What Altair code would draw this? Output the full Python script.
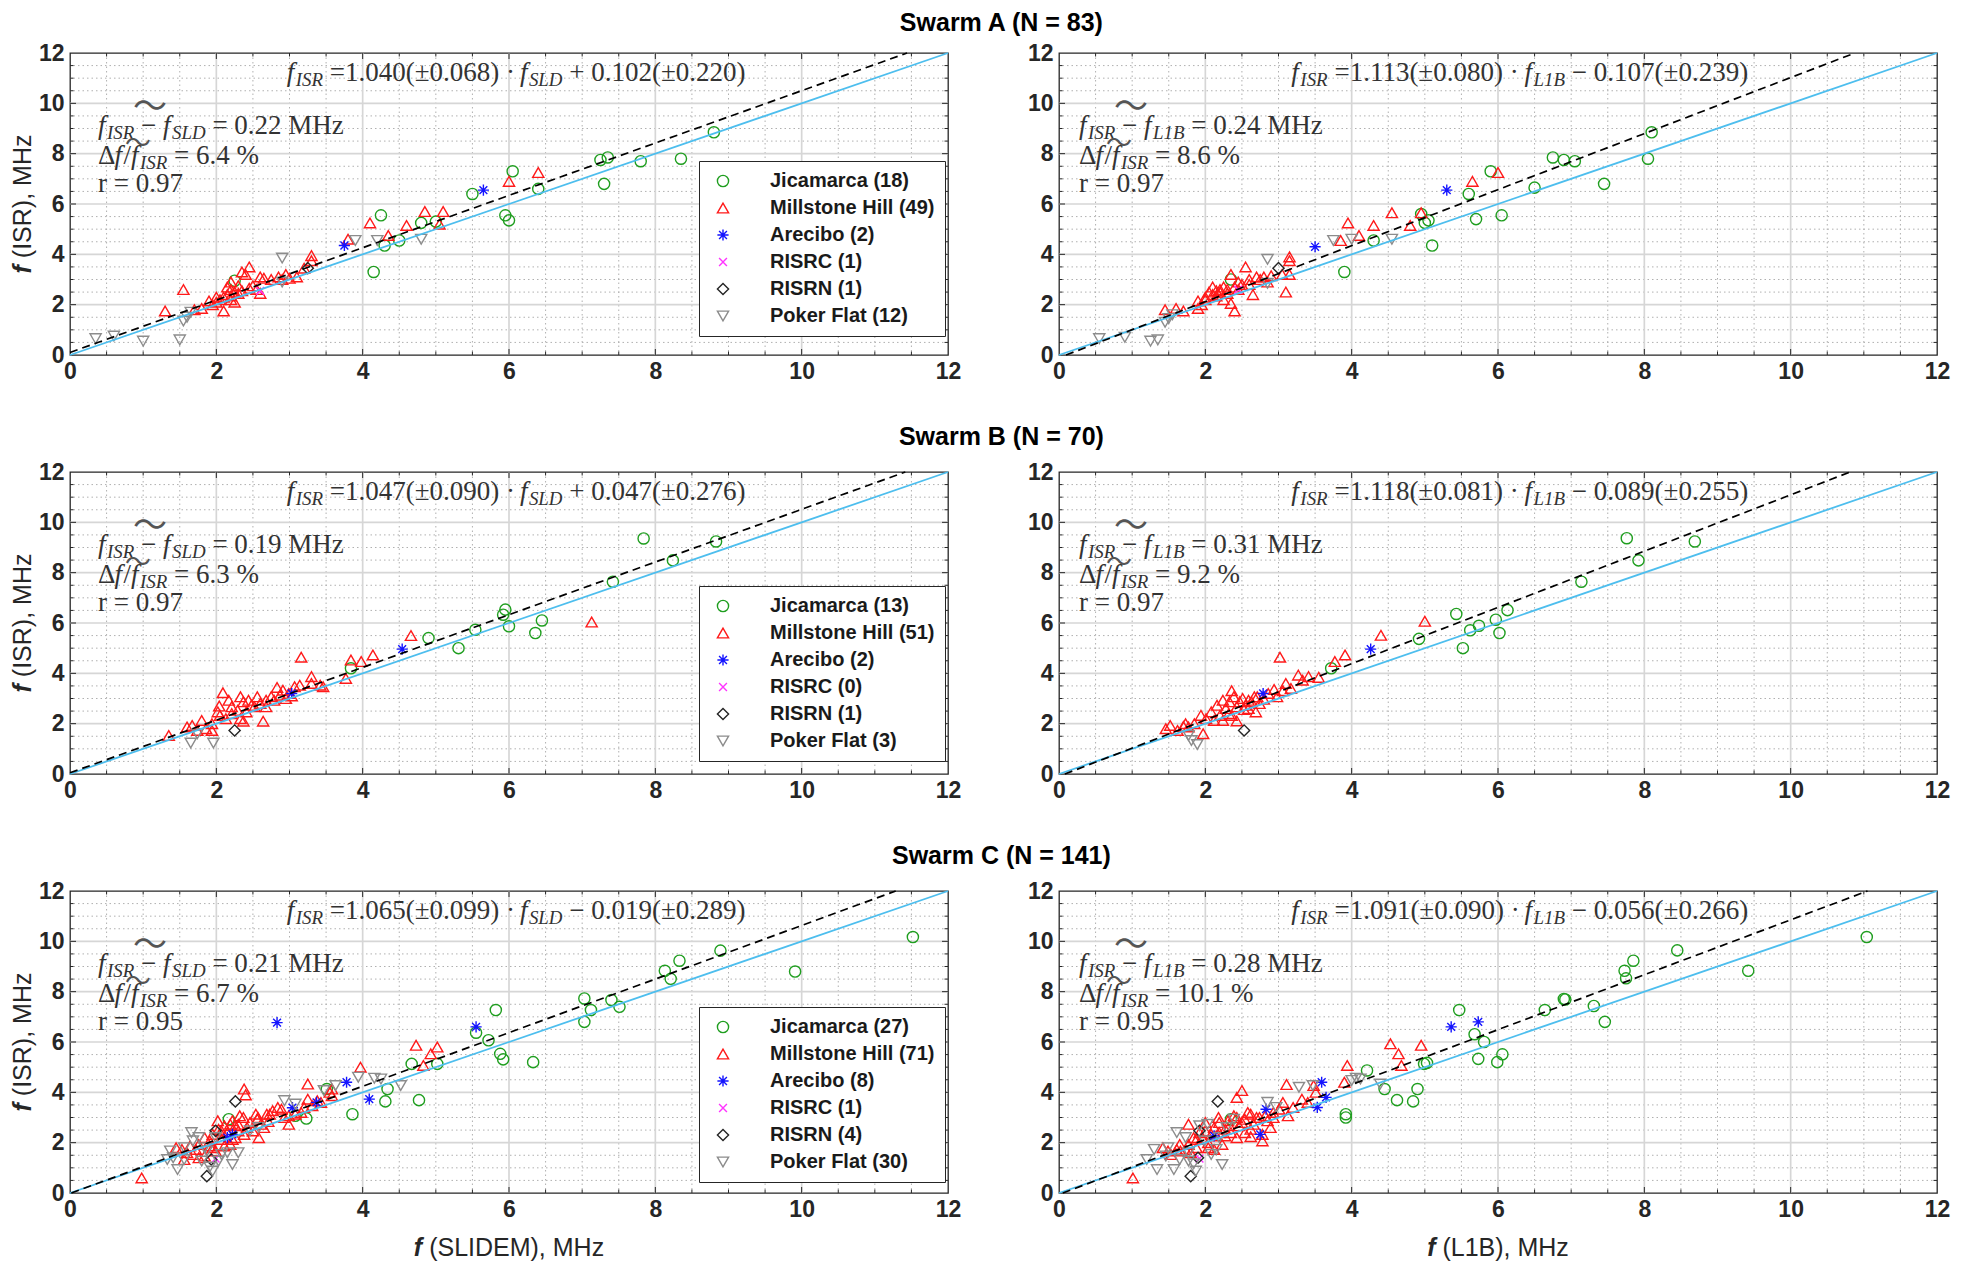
import altair as alt
import pandas as pd

# ---------------- data ----------------
STATIONS = ["Jicamarca", "Millstone Hill", "Arecibo", "RISRC", "RISRN", "Poker Flat"]
COLORS = ["#1f9e1f", "#ff1a1a", "#1414ff", "#ff33ff", "#262626", "#8c8c8c"]
ASTERISK = "M0,-1L0,1M-1,0L1,0M-0.7,-0.7L0.7,0.7M-0.7,0.7L0.7,-0.7"
XCROSS = "M-0.7,-0.7L0.7,0.7M-0.7,0.7L0.7,-0.7"
SHAPES = ["circle", "triangle-up", ASTERISK, XCROSS, "diamond", "triangle-down"]

TITLES = {"A": "Swarm A (N = 83)", "B": "Swarm B (N = 70)", "C": "Swarm C (N = 141)"}
COUNTS = {"A": [18, 49, 2, 1, 1, 12], "B": [13, 51, 2, 0, 1, 3], "C": [27, 71, 8, 1, 4, 30]}
INSTR_SUB = {"SLD": "SLD", "L1B": "L1B"}
X_TITLES = {"SLD": " (SLIDEM), MHz", "L1B": " (L1B), MHz"}
Y_TITLE = " (ISR), MHz"

# slope, slope err, intercept, intercept err
FITS = {
    ("A", "SLD"): (1.040, 0.068, 0.102, 0.220),
    ("A", "L1B"): (1.113, 0.080, -0.107, 0.239),
    ("B", "SLD"): (1.047, 0.090, 0.047, 0.276),
    ("B", "L1B"): (1.118, 0.081, -0.089, 0.255),
    ("C", "SLD"): (1.065, 0.099, -0.019, 0.289),
    ("C", "L1B"): (1.091, 0.090, -0.056, 0.266),
}
MEDIANS = {("A", "SLD"): "0.22", ("A", "L1B"): "0.24", ("B", "SLD"): "0.19",
           ("B", "L1B"): "0.31", ("C", "SLD"): "0.21", ("C", "L1B"): "0.28"}
RELDEV = {("A", "SLD"): "6.4", ("A", "L1B"): "8.6", ("B", "SLD"): "6.3",
          ("B", "L1B"): "9.2", ("C", "SLD"): "6.7", ("C", "L1B"): "10.1"}
CORR = {("A", "SLD"): "0.97", ("A", "L1B"): "0.97", ("B", "SLD"): "0.97",
        ("B", "L1B"): "0.97", ("C", "SLD"): "0.95", ("C", "L1B"): "0.95"}

# ---- Swarm A, SLIDEM ----
A_SLD_JIC = [(2.25, 2.95), (4.15, 3.3), (4.25, 5.55), (4.3, 4.35), (4.5, 4.55), (4.8, 5.25), (5.0, 5.3),
             (5.5, 6.4), (5.95, 5.55), (6.0, 5.35), (6.05, 7.3), (6.4, 6.6), (7.25, 7.75), (7.3, 6.8),
             (7.35, 7.85), (7.8, 7.7), (8.35, 7.8), (8.8, 8.85)]
A_SLD_MIL = [(1.3, 1.75), (1.55, 2.6), (1.7, 1.8), (1.8, 1.85), (1.9, 2.15), (1.95, 2.0), (2.0, 2.3),
             (2.0, 2.1), (2.05, 2.2), (2.1, 1.75), (2.1, 2.3), (2.15, 2.4), (2.15, 2.7), (2.2, 2.6),
             (2.2, 2.2), (2.2, 2.35), (2.2, 2.9), (2.25, 2.1), (2.25, 2.5), (2.3, 2.75), (2.3, 2.45),
             (2.35, 2.55), (2.4, 3.2), (2.45, 3.5), (2.45, 2.65), (2.5, 2.75), (2.55, 2.6), (2.6, 2.45),
             (2.6, 3.1), (2.65, 3.05), (2.75, 3.0), (2.85, 3.1), (2.9, 3.0), (2.95, 3.2), (3.0, 3.05),
             (3.1, 3.1), (3.2, 3.45), (3.3, 3.95), (3.3, 3.75), (3.8, 4.6), (4.1, 5.25), (4.35, 4.75),
             (4.6, 5.15), (4.85, 5.7), (5.05, 5.2), (5.1, 5.7), (6.0, 6.9), (6.4, 7.25), (2.35, 3.3)]
A_SLD_ARE = [(3.75, 4.35), (5.65, 6.55)]
A_SLD_RSC = [(2.6, 2.55)]
A_SLD_RSN = [(3.25, 3.45)]
A_SLD_PKF = [(0.35, 0.65), (0.6, 0.75), (1.0, 0.55), (1.5, 0.6), (1.55, 1.35), (1.6, 1.5), (1.65, 1.7),
             (2.9, 3.85), (2.9, 2.9), (3.9, 4.55), (4.2, 4.55), (4.8, 4.6)]

# ---- Swarm A, L1B ----
A_L1B_JIC = [(2.35, 3.0), (3.9, 3.3), (4.3, 4.55), (4.95, 5.6), (5.0, 5.25), (5.05, 5.35), (5.1, 4.35),
             (5.6, 6.4), (5.7, 5.4), (5.9, 7.3), (6.05, 5.55), (6.5, 6.65), (6.75, 7.85), (6.9, 7.75),
             (7.05, 7.7), (7.45, 6.8), (8.05, 7.8), (8.1, 8.85)]
A_L1B_MIL = [(1.45, 1.8), (1.6, 1.85), (1.7, 1.75), (1.9, 1.85), (1.9, 2.15), (1.95, 2.0), (2.0, 2.2),
             (2.0, 2.3), (2.05, 2.5), (2.1, 2.7), (2.1, 2.4), (2.15, 2.35), (2.15, 2.55), (2.2, 2.6),
             (2.2, 2.5), (2.25, 2.2), (2.25, 2.7), (2.3, 2.45), (2.3, 2.6), (2.35, 2.05), (2.35, 3.2),
             (2.4, 1.75), (2.4, 2.7), (2.45, 2.6), (2.45, 2.9), (2.5, 2.8), (2.55, 3.5), (2.6, 3.0),
             (2.6, 2.8), (2.65, 2.4), (2.7, 3.1), (2.75, 3.0), (2.8, 3.1), (2.85, 2.9), (2.9, 3.15),
             (3.05, 3.2), (3.1, 2.5), (3.15, 3.9), (3.15, 3.75), (3.15, 3.2), (3.85, 4.55), (3.95, 5.25),
             (4.1, 4.75), (4.3, 5.15), (4.55, 5.65), (4.8, 5.15), (4.95, 5.65), (5.65, 6.9), (6.0, 7.25)]
A_L1B_ARE = [(3.5, 4.3), (5.3, 6.55)]
A_L1B_RSC = [(2.45, 2.6)]
A_L1B_RSN = [(3.0, 3.45)]
A_L1B_PKF = [(0.55, 0.65), (0.9, 0.7), (1.25, 0.55), (1.35, 0.6), (1.45, 1.3), (1.5, 1.45), (1.55, 1.6),
             (2.85, 3.8), (2.85, 2.85), (3.75, 4.55), (4.0, 4.6), (4.55, 4.6)]

# ---- Swarm B, SLIDEM ----
B_SLD_JIC = [(7.84, 9.36), (8.83, 9.24), (8.24, 8.49), (7.42, 7.64), (5.95, 6.53), (5.92, 6.33),
             (6.0, 5.87), (6.45, 6.1), (6.36, 5.6), (5.54, 5.73), (4.9, 5.4), (5.31, 5.0), (3.84, 4.2)]
B_SLD_MIL = [(7.13, 6.04), (4.66, 5.5), (4.14, 4.73), (3.84, 4.53), (3.98, 4.47), (3.16, 4.64), (3.77, 3.8),
             (3.3, 3.87), (3.14, 3.53), (3.42, 3.53), (2.83, 3.44), (2.09, 3.23), (2.64, 2.1), (2.37, 2.1),
             (1.8, 2.13), (1.6, 1.87), (1.35, 1.53), (2.04, 2.7), (2.17, 2.93), (2.33, 3.07), (2.44, 2.93),
             (2.56, 3.07), (2.68, 2.93), (2.75, 3.07), (2.87, 3.13), (2.95, 3.0), (3.03, 3.1), (2.21, 2.67),
             (2.29, 2.53), (2.41, 2.47), (2.52, 2.67), (2.05, 2.33), (1.94, 2.0), (2.13, 2.2), (2.33, 2.2),
             (2.6, 2.8), (1.86, 1.8), (1.74, 1.73), (1.94, 1.73), (2.21, 2.4), (2.48, 2.73), (2.68, 2.67),
             (2.79, 2.93), (2.99, 3.2), (3.07, 3.47), (3.3, 3.6), (3.46, 3.47), (2.37, 2.87), (2.02, 2.47),
             (1.67, 1.93), (2.91, 3.33)]
B_SLD_ARE = [(4.54, 4.96), (3.03, 3.2)]
B_SLD_RSC = []
B_SLD_RSN = [(2.25, 1.73)]
B_SLD_PKF = [(1.65, 1.23), (1.96, 1.23), (1.74, 1.6)]

# ---- Swarm B, L1B ----
B_L1B_JIC = [(7.76, 9.37), (8.69, 9.24), (7.92, 8.49), (7.14, 7.64), (5.43, 6.36), (6.13, 6.51),
             (5.97, 6.13), (5.74, 5.89), (5.62, 5.71), (6.02, 5.6), (4.92, 5.37), (5.52, 5.0), (3.72, 4.2)]
B_L1B_MIL = [(5.0, 6.07), (4.4, 5.51), (3.91, 4.73), (3.77, 4.47), (3.02, 4.64), (3.55, 3.84), (3.27, 3.93),
             (3.1, 3.6), (3.41, 3.87), (2.94, 3.36), (2.36, 3.31), (2.69, 2.47), (2.43, 2.11), (1.97, 1.6),
             (1.94, 2.33), (1.73, 2.0), (1.52, 1.93), (1.46, 1.8), (2.16, 2.73), (2.24, 2.93), (2.39, 3.07),
             (2.51, 3.0), (2.59, 2.93), (2.67, 3.07), (2.24, 2.13), (2.32, 2.4), (2.43, 2.67), (2.55, 2.73),
             (2.63, 2.87), (2.08, 2.47), (2.01, 2.2), (1.85, 2.0), (2.2, 2.33), (2.47, 2.87), (2.74, 2.8),
             (2.86, 3.2), (2.98, 3.07), (3.17, 3.4), (2.71, 3.07), (2.28, 2.6), (1.77, 1.87), (2.12, 2.13),
             (2.36, 2.33), (2.59, 2.6), (1.62, 1.73), (2.33, 2.87), (2.53, 2.56), (2.8, 2.97), (3.06, 3.31),
             (3.33, 3.73), (1.7, 1.89)]
B_L1B_ARE = [(4.26, 4.96), (2.79, 3.2)]
B_L1B_RSC = []
B_L1B_RSN = [(2.53, 1.73)]
B_L1B_PKF = [(1.77, 1.53), (1.89, 1.17), (1.81, 1.33)]

# ---- Swarm C, SLIDEM ----
C_SLD_JIC = [(11.52, 10.17), (9.91, 8.8), (8.89, 9.63), (8.33, 9.23), (8.13, 8.83), (8.21, 8.51),
             (7.03, 7.73), (7.4, 7.67), (7.51, 7.4), (7.12, 7.27), (7.03, 6.8), (5.82, 7.27), (5.55, 6.37),
             (5.72, 6.07), (5.88, 5.53), (5.92, 5.31), (6.33, 5.2), (5.02, 5.13), (4.67, 5.13), (4.34, 4.13),
             (4.31, 3.64), (4.77, 3.69), (3.86, 3.13), (3.23, 2.96), (3.08, 3.07), (3.51, 4.13), (2.17, 2.93)]
C_SLD_MIL = [(0.98, 0.6), (2.38, 4.13), (2.4, 3.9), (3.25, 4.33), (3.97, 5.0), (4.73, 5.87), (5.02, 5.8),
             (4.93, 5.53), (4.83, 5.07), (3.55, 4.0), (3.58, 3.87), (3.25, 3.73), (3.31, 3.47), (2.84, 3.4),
             (2.73, 3.13), (2.56, 2.93), (2.58, 2.2), (2.99, 2.73), (2.32, 3.07), (2.02, 2.87), (2.26, 2.67),
             (2.42, 2.6), (2.07, 2.47), (2.22, 2.13), (2.11, 1.87), (1.95, 1.8), (1.84, 1.47), (1.72, 1.73),
             (1.6, 1.6), (1.45, 1.8), (1.76, 1.4), (1.56, 1.33), (1.91, 2.07), (2.15, 2.4), (2.3, 2.47),
             (2.46, 2.8), (2.57, 3.0), (2.69, 3.13), (2.77, 3.27), (2.89, 3.33), (2.99, 3.07), (3.16, 3.2),
             (3.43, 3.6), (3.58, 4.13), (2.61, 2.73), (2.07, 2.13), (2.19, 2.73), (1.95, 2.33), (1.76, 1.93),
             (1.64, 1.87), (1.53, 1.73), (1.84, 2.2), (2.38, 2.33), (2.5, 2.47), (2.65, 2.6), (2.26, 2.2),
             (2.11, 2.67), (2.22, 2.87), (2.37, 3.0), (2.54, 3.13), (2.71, 2.84), (2.93, 3.0), (3.08, 3.13),
             (3.2, 3.4), (3.38, 3.67), (1.99, 1.67), (1.68, 1.53), (1.91, 1.87), (2.19, 1.93), (2.03, 2.53),
             (2.3, 2.73)]
C_SLD_ARE = [(2.83, 6.77), (5.55, 6.6), (4.09, 3.73), (3.78, 4.4), (3.37, 3.6), (3.04, 3.39), (2.22, 2.33),
             (2.15, 2.2)]
C_SLD_RSC = [(1.99, 1.37)]
C_SLD_RSN = [(2.26, 3.64), (1.87, 0.67), (1.99, 2.47), (1.93, 1.33)]
C_SLD_PKF = [(1.33, 1.33), (1.47, 0.93), (1.37, 1.67), (1.56, 1.8), (1.68, 2.07), (1.66, 2.4), (1.76, 2.2),
             (1.84, 1.8), (1.8, 1.27), (1.91, 1.03), (1.95, 0.87), (2.07, 1.53), (2.22, 1.13), (2.15, 1.6),
             (1.87, 1.67), (2.03, 1.27), (1.99, 2.2), (2.46, 2.47), (2.58, 2.6), (2.93, 3.67), (3.08, 3.53),
             (3.47, 4.07), (3.63, 4.27), (3.94, 4.6), (4.16, 4.56), (4.25, 4.53), (4.52, 4.27), (2.3, 1.6),
             (1.41, 1.4), (1.56, 1.33)]

# ---- Swarm C, L1B ----
C_L1B_JIC = [(11.04, 10.17), (9.42, 8.83), (8.45, 9.64), (7.85, 9.23), (7.73, 8.83), (7.75, 8.53),
             (6.9, 7.71), (6.64, 7.27), (7.31, 7.43), (7.46, 6.8), (5.47, 7.27), (5.68, 6.31), (5.81, 6.0),
             (5.73, 5.33), (5.99, 5.2), (6.06, 5.51), (4.99, 5.13), (5.03, 5.17), (4.45, 4.13), (4.9, 4.13),
             (4.62, 3.69), (4.84, 3.64), (3.92, 3.13), (3.92, 3.0), (6.92, 7.69), (2.35, 2.93), (4.21, 4.87)]
C_L1B_MIL = [(1.01, 0.6), (2.5, 4.07), (2.43, 3.8), (3.11, 4.31), (3.94, 5.07), (4.53, 5.93), (4.95, 5.87),
             (4.64, 5.53), (4.68, 5.07), (3.9, 4.4), (3.48, 4.27), (3.51, 4.0), (3.32, 3.73), (3.06, 3.6),
             (2.78, 2.33), (2.78, 2.07), (2.62, 2.24), (2.43, 2.2), (2.23, 1.93), (2.04, 1.8), (1.8, 1.6),
             (1.66, 1.67), (1.53, 1.53), (1.42, 1.8), (1.77, 1.93), (1.88, 2.13), (1.77, 2.73), (2.0, 2.8),
             (2.12, 2.6), (2.19, 2.4), (2.31, 2.87), (2.39, 3.07), (2.54, 2.93), (2.62, 3.13), (2.7, 3.0),
             (2.58, 3.2), (2.82, 3.07), (2.93, 3.2), (3.01, 3.33), (1.92, 2.4), (2.08, 2.33), (2.27, 2.53),
             (2.35, 2.4), (2.46, 2.67), (1.88, 1.8), (1.61, 1.73), (2.15, 2.27), (2.27, 2.27), (2.5, 2.8),
             (2.66, 2.73), (2.85, 2.87), (2.89, 2.6), (3.13, 3.07), (3.2, 3.4), (3.4, 3.6), (1.96, 2.2),
             (2.04, 2.0), (2.19, 2.8), (1.73, 1.73), (2.12, 1.73), (2.43, 3.0), (2.54, 2.4), (2.62, 2.53),
             (2.74, 3.0), (2.93, 3.0), (1.84, 2.2), (2.0, 2.47), (2.33, 2.67), (1.65, 1.93), (1.49, 1.67),
             (2.18, 3.0)]
C_L1B_ARE = [(5.36, 6.6), (5.73, 6.8), (3.59, 4.4), (3.65, 3.8), (3.53, 3.4), (2.83, 3.33), (2.75, 2.33),
             (2.12, 2.27)]
C_L1B_RSC = [(1.92, 1.37)]
C_L1B_RSN = [(2.17, 3.64), (1.8, 0.67), (1.92, 2.47), (1.9, 1.4)]
C_L1B_PKF = [(1.2, 1.33), (1.34, 0.93), (1.57, 0.93), (1.3, 1.73), (1.49, 1.8), (1.61, 2.4), (1.73, 2.2),
             (1.77, 1.6), (1.84, 1.16), (1.87, 0.87), (2.08, 1.53), (2.23, 1.13), (2.15, 1.73), (1.77, 1.27),
             (1.99, 2.07), (2.03, 2.73), (2.39, 2.93), (2.85, 3.6), (2.97, 3.4), (3.47, 4.27), (4.06, 4.56),
             (4.12, 4.53), (4.0, 4.47), (4.39, 4.33), (3.28, 4.2), (1.46, 1.47), (1.65, 1.33), (2.19, 2.2),
             (1.92, 2.67), (2.29, 2.6)]

POINTS = {
    ("A", "SLD"): [A_SLD_JIC, A_SLD_MIL, A_SLD_ARE, A_SLD_RSC, A_SLD_RSN, A_SLD_PKF],
    ("A", "L1B"): [A_L1B_JIC, A_L1B_MIL, A_L1B_ARE, A_L1B_RSC, A_L1B_RSN, A_L1B_PKF],
    ("B", "SLD"): [B_SLD_JIC, B_SLD_MIL, B_SLD_ARE, B_SLD_RSC, B_SLD_RSN, B_SLD_PKF],
    ("B", "L1B"): [B_L1B_JIC, B_L1B_MIL, B_L1B_ARE, B_L1B_RSC, B_L1B_RSN, B_L1B_PKF],
    ("C", "SLD"): [C_SLD_JIC, C_SLD_MIL, C_SLD_ARE, C_SLD_RSC, C_SLD_RSN, C_SLD_PKF],
    ("C", "L1B"): [C_L1B_JIC, C_L1B_MIL, C_L1B_ARE, C_L1B_RSC, C_L1B_RSN, C_L1B_PKF],
}

AXIS_VALUES = [0, 2, 4, 6, 8, 10, 12]
MAJOR_GRID = [2, 4, 6, 8, 10]
MINOR_GRID = [0.5, 1, 1.5, 2.5, 3, 3.5, 4.5, 5, 5.5, 6.5, 7, 7.5, 8.5, 9, 9.5, 10.5, 11, 11.5]

# ---------------- layout / style ----------------
W, H = 878, 302
FS = 27            # equation font size
SUBF = 0.7
TXT_COLOR = "#333333"
FRAME = "#262626"
LEGEND_Y = {"A": 108, "B": 114, "C": 116}
TITLE_OFFSET = {"A": 5, "B": 10, "C": 10}
AT_FS = 25         # axis title font size

# Times New Roman / Liberation Serif advance widths (per 1000 em)
W_RM = {" ": 250, "(": 333, ")": 333, ".": 250, "=": 564, "+": 564, "\u2212": 564, "\u00b1": 564,
        "\u00b7": 250, "%": 833, "M": 889, "H": 722, "z": 444, "r": 333, "\u0394": 612, "/": 278}
W_IT = {"f": 278, "I": 333, "S": 500, "R": 611, "L": 556, "D": 722, "B": 611, " ": 250}
# Arial / Liberation Sans regular advance widths (per 1000 em)
W_SANS = {" ": 278, "(": 333, ")": 333, ",": 278, "S": 667, "L": 556, "I": 278, "D": 722, "E": 667,
          "M": 833, "H": 722, "z": 500, "R": 722, "B": 667, "1": 556}
F_BI = 333  # bold italic f


def sans_w(text):
    return sum(W_SANS.get(c, 556) for c in text) * AT_FS / 1000.0


def seg_w(text, kind):
    if kind == "rm":
        return sum(W_RM.get(c, 500) for c in text) * FS / 1000.0
    size = FS if kind == "it" else FS * SUBF
    return sum(W_IT.get(c, 500) for c in text) * size / 1000.0


def total_w(segs):
    w = 0
    for t, k in segs:
        w += seg_w(t, k) + (1.5 if k == "it" else 0)
    return w


def place(segs, x0, ydata, out):
    x = x0
    for text, kind in segs:
        core = text.strip(" ")
        lead = len(text) - len(text.lstrip(" "))
        trail = len(text) - len(text.rstrip(" "))
        x += seg_w(" " * lead, "rm")
        out[kind].append({"x": x * 12.0 / W, "y": ydata, "t": core})
        x += seg_w(core, kind) + (1.5 if kind == "it" else 0)
        x += seg_w(" " * trail, "rm")
    return x


ONE_ROW = pd.DataFrame({"k": [0]})


def label_text(txt, x, y, bold_italic, angle=0, align="left", baseline="alphabetic"):
    kw = dict(font="Liberation Sans", fontSize=AT_FS, color=FRAME, align=align, baseline=baseline,
              angle=angle)
    if bold_italic:
        kw.update(fontWeight="bold", fontStyle="italic")
    else:
        kw.update(fontWeight="normal", fontStyle="normal")
    return alt.Chart(ONE_ROW).mark_text(**kw).encode(
        x=alt.value(x), y=alt.value(y), text=alt.value(txt.strip()))


def make_panel(sw, inst, left, bottom):
    key = (sw, inst)
    labels = [f"{s} ({c})" for s, c in zip(STATIONS, COUNTS[sw])]
    recs = []
    for lab, pts in zip(labels, POINTS[key]):
        for x, y in pts:
            recs.append({"x": x, "y": y, "station": lab})
    df = pd.DataFrame(recs)

    sx = alt.Scale(domain=[0, 12], nice=False, zero=False)
    sy = alt.Scale(domain=[0, 12], nice=False, zero=False)

    xaxis = alt.Axis(values=AXIS_VALUES, grid=False, ticks=False, domain=False,
                     labelFont="Liberation Sans", labelFontWeight="bold", labelFontSize=23,
                     labelColor=FRAME, labelPadding=5, labelFlush=False, labelOverlap=False,
                     title=None)
    yaxis = alt.Axis(values=AXIS_VALUES, grid=False, ticks=False, domain=False,
                     labelFont="Liberation Sans", labelFontWeight="bold", labelFontSize=23,
                     labelColor=FRAME, labelPadding=6, labelFlush=False, labelOverlap=False,
                     title=None)

    def X(field):
        return alt.X(field, scale=sx, axis=xaxis)

    def Y(field):
        return alt.Y(field, scale=sy, axis=yaxis)

    if left:
        leg = alt.Legend(title=None, orient="none", legendX=629, legendY=LEGEND_Y[sw],
                         direction="vertical", fillColor="white", strokeColor=FRAME, padding=10,
                         rowPadding=7, labelFont="Liberation Sans", labelFontWeight="bold",
                         labelFontSize=20, labelColor="#1a1a1a", labelOffset=37, symbolOffset=4,
                         labelLimit=0, symbolSize=125, symbolStrokeWidth=1.4, cornerRadius=0)
    else:
        leg = None

    layers = []
    minor = pd.DataFrame({"v": MINOR_GRID})
    major = pd.DataFrame({"v": MAJOR_GRID})
    # grid
    layers.append(alt.Chart(minor).mark_rule(color="#b0b0b0", strokeDash=[1.5, 3], strokeWidth=1)
                  .encode(x=X("v:Q")))
    layers.append(alt.Chart(minor).mark_rule(color="#b0b0b0", strokeDash=[1.5, 3], strokeWidth=1)
                  .encode(y=Y("v:Q")))
    layers.append(alt.Chart(major).mark_rule(color="#d6d6d6", strokeWidth=1.7).encode(x=X("v:Q")))
    layers.append(alt.Chart(major).mark_rule(color="#d6d6d6", strokeWidth=1.7).encode(y=Y("v:Q")))
    # inward ticks on all four sides
    for dfv, ln in ((major, 6), (minor, 3.5)):
        layers.append(alt.Chart(dfv).mark_rule(color=FRAME, strokeWidth=1).encode(
            x=X("v:Q"), y=alt.value(H), y2=alt.value(H - ln)))
        layers.append(alt.Chart(dfv).mark_rule(color=FRAME, strokeWidth=1).encode(
            x=X("v:Q"), y=alt.value(0), y2=alt.value(ln)))
        layers.append(alt.Chart(dfv).mark_rule(color=FRAME, strokeWidth=1).encode(
            y=Y("v:Q"), x=alt.value(0), x2=alt.value(ln)))
        layers.append(alt.Chart(dfv).mark_rule(color=FRAME, strokeWidth=1).encode(
            y=Y("v:Q"), x=alt.value(W), x2=alt.value(W - ln)))

    # points
    layers.append(alt.Chart(df).mark_point(filled=False, size=125, strokeWidth=1.4, opacity=1).encode(
        x=X("x:Q"), y=Y("y:Q"),
        color=alt.Color("station:N", scale=alt.Scale(domain=labels, range=COLORS), legend=leg),
        shape=alt.Shape("station:N", scale=alt.Scale(domain=labels, range=SHAPES), legend=leg),
    ))

    # 1:1 line
    one = pd.DataFrame({"x": [0, 12], "y": [0, 12]})
    layers.append(alt.Chart(one).mark_line(color="#4dbeee", strokeWidth=1.8).encode(
        x=X("x:Q"), y=Y("y:Q")))
    # regression line
    a, ea, b, eb = FITS[key]
    x0 = 0.0 if b >= 0 else -b / a
    x1 = min(12.0, (12.0 - b) / a)
    reg = pd.DataFrame({"x": [x0, x1], "y": [a * x0 + b, a * x1 + b]})
    layers.append(alt.Chart(reg).mark_line(color="black", strokeWidth=1.7, strokeDash=[8, 5]).encode(
        x=X("x:Q"), y=Y("y:Q")))

    # annotation text
    sub = INSTR_SUB[inst]
    sign = "+" if b >= 0 else "\u2212"
    line1 = [("f", "it"), ("ISR", "sub"),
             (f" ={a:.3f}(\u00b1{ea:.3f}) \u00b7 ", "rm"), ("f", "it"), (sub, "sub"),
             (f" {sign} {abs(b):.3f}(\u00b1{eb:.3f})", "rm")]
    line2 = [("f", "it"), ("ISR", "sub"), (" \u2212 ", "rm"), ("f", "it"), (sub, "sub"),
             (f" = {MEDIANS[key]} MHz", "rm")]
    line3 = [("\u0394", "rm"), ("f", "it"), ("/", "rm"), ("f", "it"), ("ISR", "sub"),
             (f" = {RELDEV[key]} %", "rm")]
    line4 = [(f"r = {CORR[key]}", "rm")]

    out = {"it": [], "sub": [], "rm": []}
    center_px = (6.1 if inst == "SLD" else 6.3) * W / 12.0
    place(line1, center_px - total_w(line1) / 2.0, 10.9, out)
    lx = 28 if inst == "SLD" else 20
    place(line2, lx, 8.8, out)
    place(line3, lx, 7.6, out)
    place(line4, lx, 6.48, out)

    styles = {"it": dict(fontStyle="italic", fontSize=FS, dy=0),
              "sub": dict(fontStyle="italic", fontSize=FS * SUBF, dy=5),
              "rm": dict(fontStyle="normal", fontSize=FS, dy=0)}
    for kind, rows in out.items():
        st = styles[kind]
        layers.append(alt.Chart(pd.DataFrame(rows)).mark_text(
            align="left", baseline="alphabetic", font="Liberation Serif", color=TXT_COLOR,
            fontStyle=st["fontStyle"], fontSize=st["fontSize"], dy=st["dy"]).encode(
            x=X("x:Q"), y=Y("y:Q"), text="t:N"))

    # wide tilde marks of the median expression
    tl = pd.DataFrame({"x": [(lx + 52) * 12.0 / W], "y": [8.8], "t": ["\u301c"]})
    layers.append(alt.Chart(tl).mark_text(font="Noto Sans CJK JP", fontSize=34, color="#555555",
                                          baseline="middle", dy=-26).encode(
        x=X("x:Q"), y=Y("y:Q"), text="t:N"))
    tl2 = pd.DataFrame({"x": [(lx + 40) * 12.0 / W], "y": [8.8], "t": ["\u301c"]})
    layers.append(alt.Chart(tl2).mark_text(font="Noto Sans CJK JP", fontSize=26, color="#555555",
                                           baseline="middle", dy=10).encode(
        x=X("x:Q"), y=Y("y:Q"), text="t:N"))

    # axis titles: bold-italic "f" followed by the plain rest
    fw = F_BI * AT_FS / 1000.0
    if bottom:
        rest = X_TITLES[inst]
        tw = fw + sans_w(rest)
        xs = W / 2.0 - tw / 2.0
        yb = H + 63
        layers.append(label_text("f", xs, yb, True))
        layers.append(label_text(rest, xs + fw + sans_w(" "), yb, False))
    if left:
        tw = fw + sans_w(Y_TITLE)
        ys = H / 2.0 + tw / 2.0
        xc = -47
        layers.append(label_text("f", xc, ys, True, angle=270, baseline="middle"))
        layers.append(label_text(Y_TITLE, xc, ys - fw - sans_w(" "), False, angle=270,
                                 baseline="middle"))

    return alt.layer(*layers).properties(width=W, height=H)


rows = []
for sw in ["A", "B", "C"]:
    bottom = sw == "C"
    left_p = make_panel(sw, "SLD", True, bottom)
    right_p = make_panel(sw, "L1B", False, bottom)
    row = alt.hconcat(left_p, right_p, spacing=64).properties(
        title=alt.TitleParams(TITLES[sw], fontSize=25, font="Liberation Sans", fontWeight="bold",
                              anchor="middle", offset=TITLE_OFFSET[sw], color="black", dx=21)
    ).resolve_scale(color="independent", shape="independent")
    rows.append(row)

chart = alt.vconcat(*rows, spacing=41).resolve_scale(
    color="independent", shape="independent"
).properties(
    padding={"left": 2, "top": 3, "right": 0, "bottom": 0},
    background="white",
).configure_view(stroke=FRAME, strokeWidth=1.3)

chart.save("out.html", embed_options={"renderer": "svg", "actions": False})
